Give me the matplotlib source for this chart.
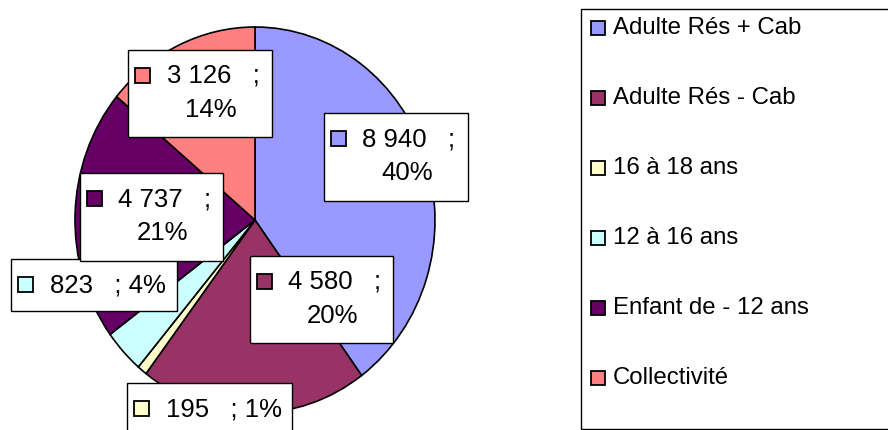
import matplotlib
matplotlib.use("Agg")
import matplotlib.pyplot as plt
from matplotlib.patches import Rectangle

plt.rcParams['font.family'] = ['Liberation Sans', 'DejaVu Sans']

# data
categories = ["Adulte Rés + Cab", "Adulte Rés - Cab", "16 à 18 ans",
              "12 à 16 ans", "Enfant de - 12 ans", "Collectivité"]
values = [8940, 4580, 195, 823, 4737, 3126]
colors = ["#9999FF", "#993366", "#FFFFCC", "#CCFFFF", "#660066", "#FF8080"]

# label boxes in pixels: left, top, width, height, one line?
label_boxes = [
    (324, 113, 144, 88, False),
    (250, 256, 143, 87, False),
    (127, 383, 165, 60, True),
    (11, 259, 166, 52, True),
    (80, 173, 143, 88, False),
    (128, 50, 144, 87, False),
]

W, H = 888, 430
fig = plt.figure(figsize=(W / 100, H / 100), dpi=100)

# pie axes (slightly taller than wide, like the original)
pl, pt, pw, ph = 75, 27, 360, 386
ax = fig.add_axes([pl / W, 1 - (pt + ph) / H, pw / W, ph / H])
ax.pie(values, colors=colors, startangle=90, counterclock=False,
       wedgeprops=dict(edgecolor="black", linewidth=1.2))
ax.set_aspect("auto")
ax.set_xlim(-1, 1)
ax.set_ylim(-1, 1)
ax.axis("off")

# overlay in pixel coords
ov = fig.add_axes([0, 0, 1, 1])
ov.set_xlim(0, W)
ov.set_ylim(H, 0)
ov.axis("off")
ov.patch.set_alpha(0)

total = sum(values)
for v, c, (bx, by, bw, bh, one) in zip(values, colors, label_boxes):
    num = f"{v:,}".replace(",", " ")
    pct = f"{round(100 * v / total)}%"
    ov.add_patch(Rectangle((bx, by), bw, bh, facecolor="white",
                           edgecolor="black", linewidth=1.0, clip_on=False))
    ov.add_patch(Rectangle((bx + 7, by + 18), 15, 15, facecolor=c,
                           edgecolor="black", linewidth=1.3, clip_on=False))
    cx = (bx + 22 + bx + bw) / 2
    if one:
        ov.text(cx + 3, by + 26, f"{num}   ; {pct}", ha="center", va="center",
                fontsize=18.5)
    else:
        ov.text(cx + 2, by + 26, f"{num}   ;", ha="center", va="center",
                fontsize=18.5)
        ov.text(cx, by + 60, pct, ha="center", va="center", fontsize=18.5)

# legend
ov.add_patch(Rectangle((581, 9), 320, 420, facecolor="white",
                       edgecolor="black", linewidth=1.0, clip_on=False))
for i, (name, c) in enumerate(zip(categories, colors)):
    y = 28 + 70 * i
    ov.add_patch(Rectangle((591, y - 7), 14, 14, facecolor=c,
                           edgecolor="black", linewidth=1.3))
    ov.text(613, y, name, ha="left", va="center", fontsize=17.3)

plt.savefig("out.png", dpi=100)
